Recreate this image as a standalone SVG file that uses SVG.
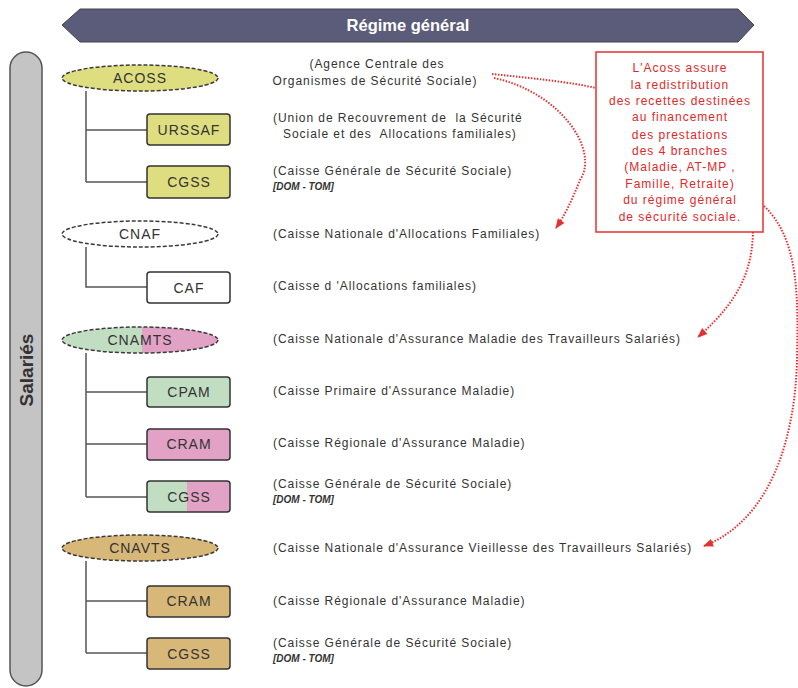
<svg xmlns="http://www.w3.org/2000/svg" width="798" height="688" viewBox="0 0 798 688">
<defs>
<style>
.ell{stroke:#3a3a3a;stroke-width:1.5;stroke-dasharray:4 2}
.box{stroke:#333;stroke-width:1.5}
.lbl{font-family:"Liberation Sans",Arial,sans-serif;font-size:14px;fill:#333;text-anchor:middle;letter-spacing:1px}
.desc{font-family:"Liberation Sans",Arial,sans-serif;font-size:12px;fill:#333;letter-spacing:0.95px;white-space:pre}
.it{font-family:"Liberation Sans",Arial,sans-serif;font-size:10px;fill:#333;font-style:italic;font-weight:bold}
.red{font-family:"Liberation Sans",Arial,sans-serif;font-size:12px;fill:#e02828;text-anchor:middle;letter-spacing:1px}
.tree{stroke:#555;stroke-width:1.5;fill:none}
.dot{stroke:#e53030;stroke-width:2;stroke-dasharray:1.5 1.5;fill:none}
.yel{fill:#dede80}
.grn{fill:#c2dec2}
.pnk{fill:#e2a2c6}
.tan{fill:#d8b878}
</style>
<marker id="ah" viewBox="0 0 10 10" refX="9" refY="5" markerWidth="12" markerHeight="10" orient="auto-start-reverse" markerUnits="userSpaceOnUse">
<path d="M0,1 L10,5 L0,9 z" fill="#e53030"/>
</marker>
<clipPath id="cnamtsL"><rect x="0" y="320" width="142" height="40"/></clipPath>
<clipPath id="cnamtsR"><rect x="142" y="320" width="100" height="40"/></clipPath>
<clipPath id="cgssL"><rect x="140" y="478" width="47" height="40"/></clipPath>
<clipPath id="cgssR"><rect x="187" y="478" width="50" height="40"/></clipPath>
</defs>
<rect width="798" height="688" fill="#ffffff"/>

<g id="banner">
<polygon points="62,25 80,9 738,9 754,25 738,42 80,42" fill="#5b5b7a" stroke="#444" stroke-width="1"/>
<text x="408" y="31" font-family="Liberation Sans,Arial,sans-serif" font-size="16.5" font-weight="bold" fill="#ffffff" text-anchor="middle">Régime général</text>
</g>

<g id="salaries">
<rect x="10" y="52" width="32" height="634" rx="16" fill="#c4c4c4" stroke="#555" stroke-width="1.5"/>
<text transform="translate(33,370) rotate(-90)" font-family="Liberation Sans,Arial,sans-serif" font-size="19" font-weight="bold" fill="#333" text-anchor="middle">Salariés</text>
</g>

<g id="connectors">
<path class="tree" d="M86,91 V182 M86,130 H147 M86,182 H147"/>
<path class="tree" d="M86,247 V287 H147"/>
<path class="tree" d="M86,353 V497 M86,392 H147 M86,444 H147 M86,497 H147"/>
<path class="tree" d="M86,561 V653 M86,601 H147 M86,653 H147"/>
<path class="dot" d="M492,74 C530,78 570,82 596,88"/>
<path class="dot" d="M494,78 C560,92 600,150 580,180 C572,200 565,215 556,228" marker-end="url(#ah)"/>
<path class="dot" d="M753,232 C752,270 740,300 698,337" marker-end="url(#ah)"/>
<path class="dot" d="M764,206 C800,240 798,300 797,360 C795,440 770,520 704,546" marker-end="url(#ah)"/>
</g>

<g id="acoss">
<ellipse class="ell yel" cx="140" cy="78" rx="78" ry="13"/>
<text class="lbl" x="140" y="83">ACOSS</text>
<text class="desc" x="377" y="68" text-anchor="middle">(Agence Centrale des</text>
<text class="desc" x="375" y="85" text-anchor="middle">Organismes de Sécurité Sociale)</text>
</g>
<g id="urssaf">
<rect class="box yel" x="147" y="114" width="83" height="31" rx="3"/>
<text class="lbl" x="189" y="135">URSSAF</text>
<text class="desc" x="273" y="122" xml:space="preserve">(Union de Recouvrement de  la Sécurité</text>
<text class="desc" x="283" y="138" xml:space="preserve">Sociale et des  Allocations familiales)</text>
</g>
<g id="cgss1">
<rect class="box yel" x="147" y="166" width="83" height="32" rx="3"/>
<text class="lbl" x="189" y="187">CGSS</text>
<text class="desc" x="273" y="175">(Caisse Générale de Sécurité Sociale)</text>
<text class="it" x="273" y="190">[DOM - TOM]</text>
</g>

<g id="cnaf">
<ellipse class="ell" fill="#ffffff" cx="140" cy="234" rx="78" ry="13"/>
<text class="lbl" x="140" y="239">CNAF</text>
<text class="desc" x="273" y="238">(Caisse Nationale d'Allocations Familiales)</text>
</g>
<g id="caf">
<rect class="box" fill="#ffffff" x="147" y="272" width="83" height="31" rx="3"/>
<text class="lbl" x="189" y="293">CAF</text>
<text class="desc" x="273" y="290">(Caisse d 'Allocations familiales)</text>
</g>

<g id="cnamts">
<ellipse class="grn" cx="140" cy="340" rx="78" ry="13" clip-path="url(#cnamtsL)"/>
<ellipse class="pnk" cx="140" cy="340" rx="78" ry="13" clip-path="url(#cnamtsR)"/>
<ellipse class="ell" fill="none" cx="140" cy="340" rx="78" ry="13"/>
<text class="lbl" x="140" y="345">CNAMTS</text>
<text class="desc" x="273" y="343">(Caisse Nationale d'Assurance Maladie des Travailleurs Salariés)</text>
</g>
<g id="cpam">
<rect class="box grn" x="147" y="377" width="83" height="30" rx="3"/>
<text class="lbl" x="189" y="397">CPAM</text>
<text class="desc" x="273" y="395">(Caisse Primaire d'Assurance Maladie)</text>
</g>
<g id="cram1">
<rect class="box pnk" x="147" y="429" width="83" height="31" rx="3"/>
<text class="lbl" x="189" y="449">CRAM</text>
<text class="desc" x="273" y="447">(Caisse Régionale d'Assurance Maladie)</text>
</g>
<g id="cgss2">
<rect class="grn" x="147" y="481" width="83" height="31" rx="3" clip-path="url(#cgssL)"/>
<rect class="pnk" x="147" y="481" width="83" height="31" rx="3" clip-path="url(#cgssR)"/>
<rect class="box" fill="none" x="147" y="481" width="83" height="31" rx="3"/>
<text class="lbl" x="189" y="502">CGSS</text>
<text class="desc" x="273" y="488">(Caisse Générale de Sécurité Sociale)</text>
<text class="it" x="273" y="503">[DOM - TOM]</text>
</g>

<g id="cnavts">
<ellipse class="ell tan" cx="140" cy="548" rx="78" ry="13"/>
<text class="lbl" x="140" y="553">CNAVTS</text>
<text class="desc" x="273" y="552">(Caisse Nationale d'Assurance Vieillesse des Travailleurs Salariés)</text>
</g>
<g id="cram2">
<rect class="box tan" x="147" y="586" width="83" height="31" rx="3"/>
<text class="lbl" x="189" y="606">CRAM</text>
<text class="desc" x="273" y="605">(Caisse Régionale d'Assurance Maladie)</text>
</g>
<g id="cgss3">
<rect class="box tan" x="147" y="638" width="83" height="31" rx="3"/>
<text class="lbl" x="189" y="659">CGSS</text>
<text class="desc" x="273" y="647">(Caisse Générale de Sécurité Sociale)</text>
<text class="it" x="273" y="662">[DOM - TOM]</text>
</g>

<g id="note">
<rect x="596" y="52" width="167" height="180" fill="#ffffff" stroke="#e53030" stroke-width="1.5"/>
<text class="red" x="680" y="72">L'Acoss assure</text>
<text class="red" x="680" y="89">la redistribution</text>
<text class="red" x="680" y="105">des recettes destinées</text>
<text class="red" x="680" y="121">au financement</text>
<text class="red" x="680" y="139">des prestations</text>
<text class="red" x="680" y="155">des 4 branches</text>
<text class="red" x="680" y="171">(Maladie, AT-MP ,</text>
<text class="red" x="680" y="188">Famille, Retraite)</text>
<text class="red" x="680" y="204">du régime général</text>
<text class="red" x="680" y="221">de sécurité sociale.</text>
</g>
</svg>
